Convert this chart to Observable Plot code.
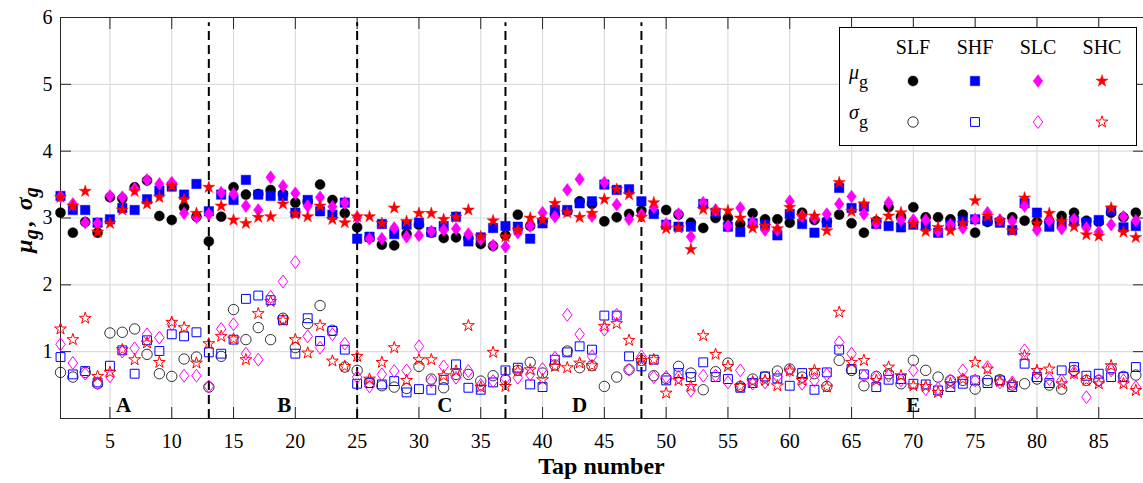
<!DOCTYPE html>
<html><head><meta charset="utf-8">
<script src="https://cdn.jsdelivr.net/npm/d3@7"></script>
<script src="https://cdn.jsdelivr.net/npm/@observablehq/plot@0.6"></script>
<style>
html,body{margin:0;padding:0;background:#fff;}
#wrap{position:relative;width:1143px;height:483px;overflow:hidden;}
#legend{position:absolute;left:839px;top:27px;}
svg text{font-family:"Liberation Serif","Times New Roman",serif;}
</style></head><body>
<div id="wrap"></div>
<script>
// ---------------- data ----------------
const taps = d3.range(1, 89);
const seriesNames = ["SLF", "SHF", "SLC", "SHC"];
const xTicks = [5, 10, 15, 20, 25, 30, 35, 40, 45, 50, 55, 60, 65, 70, 75, 80, 85];
const yTicks = [1, 2, 3, 4, 5, 6];
const boundaries = [13, 25, 37, 48];
const regionLabels = ["A", "B", "C", "D", "E"];
const regionCenters = [6.1, 19.1, 32.1, 43, 70];

const muSLF = [3.08,2.78,2.94,2.78,3.31,3.29,3.46,3.56,3.03,2.97,3.16,3.02,2.65,
  3.02,3.46,3.35,3.36,3.42,3.36,3.23,3.25,3.50,3.27,3.07,2.86,
  2.70,2.60,2.59,2.76,2.90,2.78,2.70,2.71,2.70,2.61,2.58,2.74,
  3.05,2.88,2.95,3.05,3.10,3.25,3.21,2.95,3.01,3.06,3.11,3.08,
  3.12,3.05,2.93,2.85,3.00,3.00,2.91,3.07,2.98,2.98,2.93,3.08,
  2.97,2.95,3.05,2.92,2.78,2.95,3.16,3.02,3.16,3.01,3.01,2.98,3.05,
  2.78,2.94,2.95,3.01,2.96,2.94,2.95,3.03,3.08,2.96,2.94,3.08,3.01,3.08];
const muSHF = [3.33,3.12,3.12,2.93,2.98,3.15,3.12,3.28,3.41,3.47,3.35,3.51,3.10,
  3.35,3.27,3.57,3.35,3.33,3.33,3.08,3.27,3.10,3.05,3.23,2.69,
  2.72,2.91,2.76,2.90,2.93,2.79,2.88,3.02,2.65,2.71,2.85,2.88,
  2.87,2.69,2.92,3.12,3.12,3.22,3.25,3.50,3.42,3.43,3.25,3.06,
  2.90,2.87,2.87,3.21,3.08,2.87,2.79,2.92,2.90,2.74,3.06,2.91,
  2.78,2.93,3.45,3.15,3.17,2.91,2.88,2.86,2.90,2.88,2.78,2.90,2.95,
  2.98,2.96,2.93,2.82,3.22,3.08,2.87,2.91,2.96,2.93,2.97,3.11,2.86,2.88];
const muSLC = [3.32,3.21,2.93,2.92,3.33,3.31,3.44,3.57,3.51,3.53,3.07,3.01,3.06,
  3.38,3.36,3.18,3.12,3.61,3.48,3.37,3.18,3.31,3.17,3.23,3.01,
  2.69,2.69,2.85,2.72,2.74,2.80,2.82,2.84,2.76,2.68,2.59,2.57,
  2.78,2.88,3.08,3.02,3.42,3.58,3.03,3.53,3.20,2.98,3.05,3.16,
  2.91,3.06,2.72,3.23,3.12,2.88,3.15,2.93,2.82,2.82,3.25,3.03,
  3.00,3.06,3.21,3.32,3.06,2.92,3.23,2.97,2.97,2.97,2.80,2.90,2.85,
  2.98,3.08,2.97,2.95,3.18,2.82,2.96,2.84,2.98,2.85,2.79,2.90,3.02,2.96];
const muSHC = [3.31,3.18,3.40,2.79,2.92,3.12,3.40,3.21,3.31,3.48,3.28,3.07,3.46,
  3.18,2.97,2.92,3.01,3.02,3.21,3.06,3.02,3.18,2.98,2.93,3.02,
  3.02,2.92,3.15,2.95,3.07,3.07,2.98,3.01,3.12,2.72,2.96,2.72,
  2.82,3.00,2.97,3.22,3.08,3.01,3.07,3.28,3.43,3.35,3.01,3.23,
  2.84,2.85,2.53,3.13,3.11,3.11,3.00,2.85,2.88,2.84,3.16,3.03,
  3.03,2.81,3.53,3.10,3.21,2.97,3.03,3.08,2.91,2.80,2.86,2.81,2.92,
  3.26,3.03,2.96,2.81,3.30,2.92,3.07,2.95,2.87,2.75,2.73,3.15,2.79,2.71];

const sdSLF = [0.69,0.62,0.69,0.52,1.28,1.29,1.34,0.96,0.67,0.63,0.89,0.92,0.47,
  0.93,1.63,1.18,1.36,1.18,1.50,1.06,1.42,1.69,1.32,0.77,0.72,
  0.54,0.49,0.47,0.45,0.78,0.59,0.46,0.66,0.66,0.56,0.64,0.58,
  0.72,0.84,0.68,0.80,1.01,0.76,0.79,0.48,0.62,0.73,0.87,0.64,
  0.60,0.78,0.68,0.43,0.70,0.83,0.48,0.59,0.62,0.71,0.74,0.62,
  0.67,0.48,0.87,0.72,0.49,0.63,0.67,0.52,0.87,0.72,0.62,0.57,0.57,
  0.44,0.57,0.58,0.50,0.52,0.59,0.50,0.44,0.72,0.57,0.57,0.74,0.63,0.65];
const sdSHF = [0.92,0.66,0.71,0.54,0.79,1.02,0.67,1.17,1.01,1.26,1.23,1.29,0.99,
  0.97,1.18,1.79,1.84,1.77,1.47,0.97,1.50,1.16,1.31,1.03,0.52,
  0.53,0.51,0.56,0.39,0.44,0.43,0.58,0.81,0.46,0.43,0.54,0.72,
  0.76,0.51,0.47,0.88,0.99,1.08,1.03,1.54,1.54,0.93,0.78,0.88,
  0.57,0.68,0.62,0.84,0.62,0.59,0.46,0.53,0.63,0.60,0.49,0.68,
  0.43,0.69,1.03,0.74,0.66,0.47,0.58,0.59,0.52,0.51,0.42,0.47,0.52,
  0.57,0.53,0.57,0.47,0.82,0.62,0.53,0.72,0.77,0.64,0.67,0.62,0.62,0.77];
const sdSLC = [1.11,0.83,0.67,0.53,0.63,1.00,1.05,1.26,1.21,1.41,0.64,0.64,0.48,
  1.34,1.41,0.97,0.88,1.82,2.05,2.34,1.23,1.06,1.26,1.12,0.62,
  0.48,0.66,0.71,0.72,1.08,0.56,0.78,0.61,0.71,0.50,0.56,0.60,
  0.61,0.66,0.74,0.91,1.55,1.26,0.93,1.33,1.55,0.73,0.93,0.62,
  0.62,0.62,0.42,0.64,0.64,0.54,0.72,0.52,0.54,0.63,0.72,0.52,
  0.57,0.66,1.14,0.97,0.64,0.62,0.64,0.57,0.72,0.44,0.45,0.57,0.72,
  0.57,0.77,0.54,0.54,1.02,0.68,0.59,0.57,0.69,0.32,0.57,0.72,0.57,0.47];
const sdSHC = [1.34,1.18,1.50,0.63,0.69,1.03,0.88,1.13,0.84,1.44,1.36,0.83,1.12,
  1.23,1.19,0.88,1.57,1.75,1.47,1.18,0.98,1.39,0.86,0.78,0.93,
  0.59,0.84,1.06,0.57,0.88,0.88,0.64,0.71,1.39,0.47,0.99,0.48,
  0.71,0.73,0.58,0.78,0.76,0.83,0.79,1.38,1.42,1.17,0.87,0.88,
  0.38,0.57,0.48,1.24,0.96,0.78,0.48,0.55,0.57,0.49,0.71,0.57,
  0.72,0.47,1.59,0.84,0.87,0.57,0.77,0.64,0.49,0.48,0.39,0.52,0.59,
  0.84,0.74,0.55,0.52,0.94,0.72,0.74,0.52,0.67,0.57,0.52,0.79,0.52,0.42];

// ---------------- styles ----------------
const colors = ["#000000", "#0000ff", "#ff00ff", "#ff0000"];
const diamondSym = {
  draw(ctx, size) {
    const r = Math.sqrt(size / Math.PI);
    const hw = r * 0.85, hh = r * 1.15;
    ctx.moveTo(0, -hh); ctx.lineTo(hw, 0); ctx.lineTo(0, hh); ctx.lineTo(-hw, 0); ctx.closePath();
  }
};
const symbols = [d3.symbolCircle, d3.symbolSquare, diamondSym, d3.symbolStar];
const rFilled = [5, 5.3, 5.6, 3.8];
const rOpen = [5.2, 5.0, 5.6, 3.7];

const muAll = [muSLF, muSHF, muSLC, muSHC];
const sdAll = [sdSLF, sdSHF, sdSLC, sdSHC];
const toRows = (arr, name) => taps.map((t, i) => ({tap: t, value: arr[i], series: name}));

const serif = "Liberation Serif";
const W = 1143, H = 483;
const intFmt = d3.format("d");

const marks = [
  Plot.gridX(xTicks, {stroke: "#dcdcdc", strokeOpacity: 1, strokeWidth: 1.2}),
  Plot.gridY(yTicks, {stroke: "#dcdcdc", strokeOpacity: 1, strokeWidth: 1.2}),
  Plot.axisX(xTicks, {anchor: "bottom", tickSize: -11, text: null, stroke: "#262626"}),
  Plot.axisX(xTicks, {anchor: "top", tickSize: -11, text: null, stroke: "#262626"}),
  Plot.axisY(yTicks, {anchor: "left", tickSize: -11, text: null, stroke: "#262626"}),
  Plot.axisY(yTicks, {anchor: "right", tickSize: -11, text: null, stroke: "#262626"}),
  Plot.axisX(xTicks, {anchor: "bottom", tickSize: 0, tickPadding: 15, tickFormat: intFmt, fontSize: 20, fontFamily: serif, label: null, fill: "#000"}),
  Plot.axisY(yTicks, {anchor: "left", tickSize: 0, tickPadding: 8, tickFormat: intFmt, fontSize: 20, fontFamily: serif, label: null, fill: "#000"}),
  Plot.frame({stroke: "#262626", strokeWidth: 1}),
  Plot.ruleX(boundaries, {y1: 0, y2: 5.92, stroke: "#000", strokeWidth: 2, strokeDasharray: "9,5"}),
  Plot.text(regionLabels, {x: (d, i) => regionCenters[i], y: 0.2, text: d => d, fontSize: 21, fontFamily: serif, fontWeight: "bold", fill: "#000"})
];
seriesNames.forEach((name, k) => {
  marks.push(Plot.dot(toRows(muAll[k], name), {x: "tap", y: "value", symbol: symbols[k], r: rFilled[k], fill: colors[k], stroke: colors[k], strokeWidth: 0.5}));
});
seriesNames.forEach((name, k) => {
  marks.push(Plot.dot(toRows(sdAll[k], name), {x: "tap", y: "value", symbol: symbols[k], r: rOpen[k], fill: "none", stroke: colors[k], strokeWidth: k === 0 ? 0.8 : 1}));
});

const chart = Plot.plot({
  width: W, height: H,
  marginTop: 17, marginBottom: 65, marginLeft: 60, marginRight: 0,
  x: {domain: [1, 88.62], label: null},
  y: {domain: [0, 6], label: null},
  style: {fontFamily: serif, fontSize: "20px", color: "#000", background: "#fff", overflow: "visible"},
  marks
});

const svg = d3.select(chart);
// x label
svg.append("text").attr("x", 601.5).attr("y", 474).attr("text-anchor", "middle")
  .attr("font-family", serif).attr("font-size", 24).attr("font-weight", "bold").attr("fill", "#000")
  .text("Tap number");
// y label
const yl = svg.append("text").attr("transform", "translate(32,220) rotate(-90)").attr("text-anchor", "middle")
  .attr("font-family", serif).attr("font-size", 24).attr("font-weight", "bold").attr("font-style", "italic").attr("fill", "#000");
yl.append("tspan").text("μ");
yl.append("tspan").attr("font-size", 20).attr("dy", 6).text("g");
yl.append("tspan").attr("dy", -6).attr("dx", 3).text(",");
yl.append("tspan").attr("dx", 10).text("σ");
yl.append("tspan").attr("font-size", 20).attr("dy", 6).text("g");

document.getElementById("wrap").appendChild(chart);

// ---------------- legend ----------------
const lw = 297, lh = 118;
const lg = d3.create("svg").attr("id", "legend").attr("width", lw + 2).attr("height", lh + 2);
lg.append("rect").attr("x", 0.5).attr("y", 0.5).attr("width", lw).attr("height", lh)
  .attr("fill", "#fff").attr("stroke", "#000").attr("stroke-width", 1);
const colX = [74, 136, 199, 263];
seriesNames.forEach((name, k) => {
  lg.append("text").attr("x", colX[k]).attr("y", 27).attr("text-anchor", "middle")
    .attr("font-family", serif).attr("font-size", 20).attr("fill", "#000").text(name);
  const filled = d3.symbol(symbols[k], Math.PI * rFilled[k] * rFilled[k])();
  lg.append("path").attr("d", filled).attr("transform", `translate(${colX[k]},54)`)
    .attr("fill", colors[k]).attr("stroke", colors[k]).attr("stroke-width", 0.5);
  const open = d3.symbol(symbols[k], Math.PI * rOpen[k] * rOpen[k])();
  lg.append("path").attr("d", open).attr("transform", `translate(${colX[k]},95)`)
    .attr("fill", "none").attr("stroke", colors[k]).attr("stroke-width", k === 0 ? 0.8 : 1);
});
const rowLab = [["μ", 52], ["σ", 92]];
rowLab.forEach(([sym, yb]) => {
  const t = lg.append("text").attr("x", 10).attr("y", yb).attr("font-family", serif)
    .attr("font-size", 20).attr("font-style", "italic").attr("fill", "#000");
  t.append("tspan").text(sym);
  t.append("tspan").attr("font-size", 18).attr("font-style", "normal").attr("dy", 9).text("g");
});
document.getElementById("wrap").appendChild(lg.node());
</script>
</body></html>
